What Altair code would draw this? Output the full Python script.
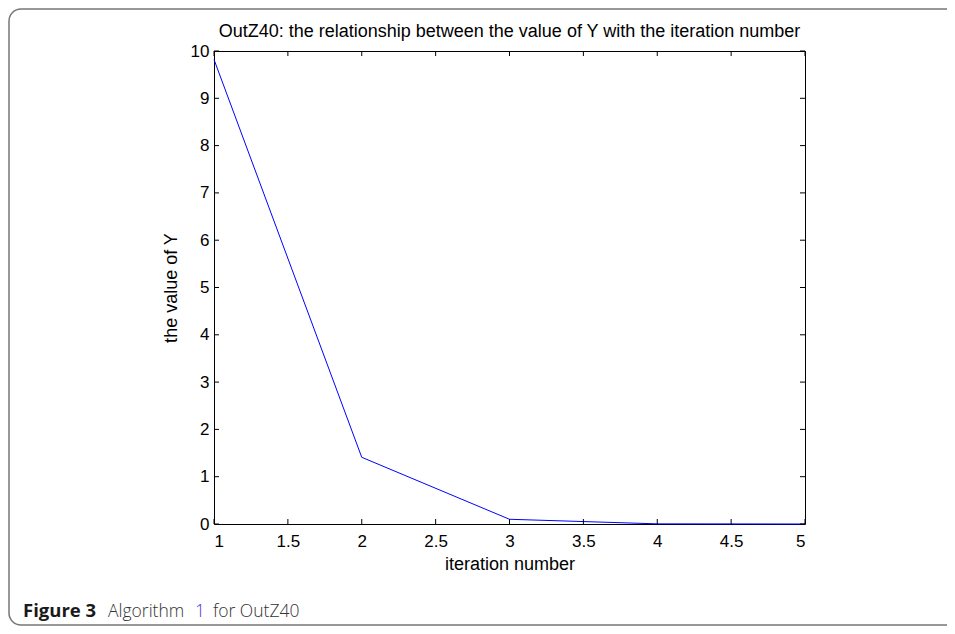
import altair as alt
import pandas as pd

iterations = [1, 2, 3, 4, 5]
y_values = [9.82, 1.41, 0.10, 0.003, 0.0]
x_ticks = [1, 1.5, 2, 2.5, 3, 3.5, 4, 4.5, 5]
y_ticks = [0, 1, 2, 3, 4, 5, 6, 7, 8, 9, 10]
title_text = "OutZ40: the relationship between the value of Y with the iteration number"
x_title = "iteration number"
y_title = "the value of Y"
caption_bold = "Figure 3"
caption_algo = "Algorithm"
caption_ref = "1"
caption_rest = "for OutZ40"

W, H = 591, 473
FONT = "Liberation Sans"
LFS = 17
TFS = 18

df = pd.DataFrame({"iteration": iterations, "value": y_values})
xt = pd.DataFrame({"iteration": x_ticks})
yt = pd.DataFrame({"value": y_ticks})

xs = alt.Scale(domain=[1, 5], nice=False, zero=False)
ys = alt.Scale(domain=[0, 10], nice=False)
x_axis = alt.Axis(values=x_ticks, format="~g", title=x_title, tickSize=0,
                  domain=False, grid=False, labelPadding=9, titlePadding=6)
y_axis = alt.Axis(values=y_ticks, format="d", title=y_title, tickSize=0,
                  domain=False, grid=False, labelPadding=5, titlePadding=10)
X = alt.X("iteration:Q", scale=xs, axis=x_axis)
Y = alt.Y("value:Q", scale=ys, axis=y_axis)

line = alt.Chart(df).mark_line(color="#0000ff", strokeWidth=1).encode(x=X, y=Y)

tick_len = 5
xb = alt.Chart(xt).mark_rule(color="black", strokeWidth=1).encode(
    x=X, y=alt.value(H), y2=alt.value(H - tick_len))
xtp = alt.Chart(xt).mark_rule(color="black", strokeWidth=1).encode(
    x=X, y=alt.value(0), y2=alt.value(tick_len))
yl = alt.Chart(yt).mark_rule(color="black", strokeWidth=1).encode(
    y=Y, x=alt.value(0), x2=alt.value(tick_len))
yr = alt.Chart(yt).mark_rule(color="black", strokeWidth=1).encode(
    y=Y, x=alt.value(W), x2=alt.value(W - tick_len))

one = pd.DataFrame({"a": [0]})
frame = alt.Chart(one).mark_rect(fillOpacity=0, stroke="#777777", strokeWidth=1.5,
                                  cornerRadius=12).encode(
    x=alt.value(-205), x2=alt.value(W + 260), y=alt.value(-42), y2=alt.value(574))

title = alt.Chart(one).mark_text(text=title_text, font=FONT, fontSize=TFS,
                                 align="center", baseline="alphabetic",
                                 color="black").encode(x=alt.value(W / 2), y=alt.value(-14))

cap_y = 566
cap1 = alt.Chart(one).mark_text(text=caption_bold, font="Open Sans", fontSize=18.5,
                                fontWeight="bold", align="left", baseline="alphabetic",
                                color="#1a1a1a").encode(x=alt.value(23 - 214), y=alt.value(cap_y))
cap2 = alt.Chart(one).mark_text(text=caption_algo, font="Open Sans", fontSize=17.5,
                                fontWeight=300, align="left", baseline="alphabetic",
                                color="#333333").encode(x=alt.value(108 - 214), y=alt.value(cap_y))
cap3 = alt.Chart(one).mark_text(text=caption_ref, font="Open Sans", fontSize=17.5,
                                fontWeight=300, align="left", baseline="alphabetic",
                                color="#3b3bdd").encode(x=alt.value(195 - 214), y=alt.value(cap_y))
cap4 = alt.Chart(one).mark_text(text=caption_rest, font="Open Sans", fontSize=17.5,
                                fontWeight=300, align="left", baseline="alphabetic",
                                color="#333333").encode(x=alt.value(213 - 214), y=alt.value(cap_y))

chart = alt.layer(frame, line, xb, xtp, yl, yr, title, cap1, cap2, cap3, cap4).properties(
    width=W, height=H,
    background="white",
    autosize=alt.AutoSizeParams(type="none"),
    padding={"left": 206, "top": 43, "right": 142, "bottom": 102},
).configure_view(stroke="black", strokeWidth=1).configure_axis(
    labelFont=FONT, labelFontSize=LFS, labelColor="black",
    titleFont=FONT, titleFontSize=TFS, titleFontWeight="normal", titleColor="black",
)

chart.save("out.html", embed_options={"renderer": "svg", "actions": False})
